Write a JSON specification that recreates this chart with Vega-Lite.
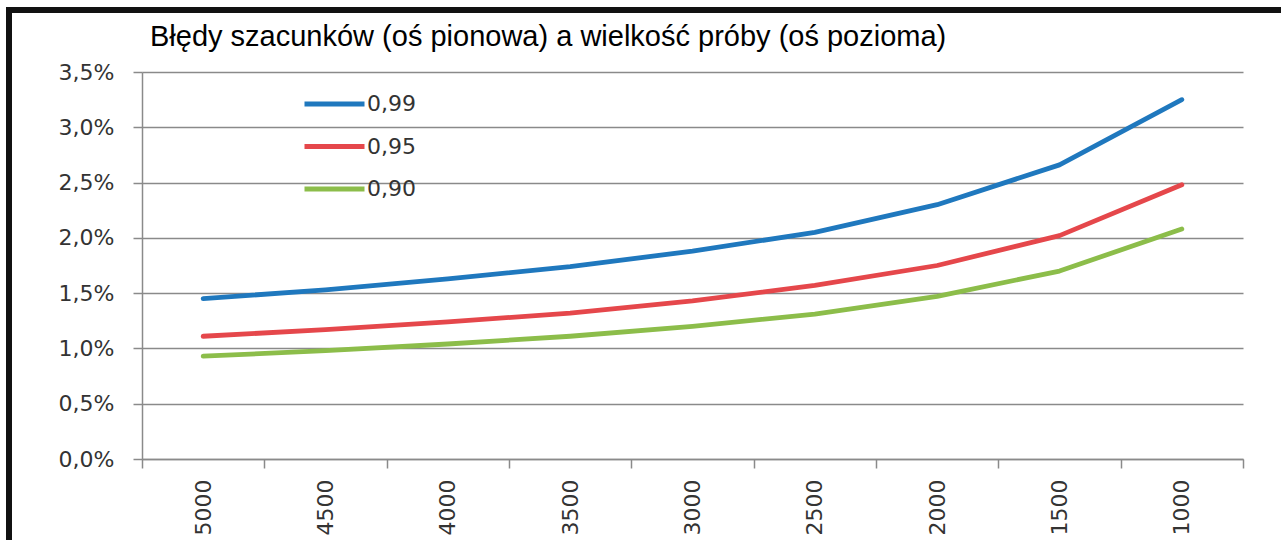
{
  "$schema": "https://vega.github.io/schema/vega-lite/v6.json",
  "autosize": {"type": "none"},
  "padding": {"left": 9, "top": 10, "right": 0, "bottom": 0},
  "width": 1290,
  "height": 545,
  "background": "white",
  "config": {
    "locale": {"number": {"decimal": ",", "thousands": " ", "grouping": [3], "currency": ["", " zł"]}},
    "view": {"stroke": "#111111", "strokeWidth": 6}
  },
  "title": {
    "text": "Błędy szacunków (oś pionowa) a wielkość próby (oś pozioma)",
    "anchor": "start",
    "frame": "group",
    "orient": "top",
    "offset": 0,
    "baseline": "alphabetic",
    "dx": 141,
    "dy": 65,
    "font": "Liberation Sans",
    "fontSize": 29,
    "fontWeight": "normal",
    "color": "#000000"
  },
  "data": {
    "values": [
      {"n": "5000", "conf": "0,99", "err": 0.0145},
      {"n": "4500", "conf": "0,99", "err": 0.0153},
      {"n": "4000", "conf": "0,99", "err": 0.0163},
      {"n": "3500", "conf": "0,99", "err": 0.0174},
      {"n": "3000", "conf": "0,99", "err": 0.0188},
      {"n": "2500", "conf": "0,99", "err": 0.0205},
      {"n": "2000", "conf": "0,99", "err": 0.0230},
      {"n": "1500", "conf": "0,99", "err": 0.0266},
      {"n": "1000", "conf": "0,99", "err": 0.0325},
      {"n": "5000", "conf": "0,95", "err": 0.0111},
      {"n": "4500", "conf": "0,95", "err": 0.0117},
      {"n": "4000", "conf": "0,95", "err": 0.0124},
      {"n": "3500", "conf": "0,95", "err": 0.0132},
      {"n": "3000", "conf": "0,95", "err": 0.0143},
      {"n": "2500", "conf": "0,95", "err": 0.0157},
      {"n": "2000", "conf": "0,95", "err": 0.0175},
      {"n": "1500", "conf": "0,95", "err": 0.0202},
      {"n": "1000", "conf": "0,95", "err": 0.0248},
      {"n": "5000", "conf": "0,90", "err": 0.0093},
      {"n": "4500", "conf": "0,90", "err": 0.0098},
      {"n": "4000", "conf": "0,90", "err": 0.0104},
      {"n": "3500", "conf": "0,90", "err": 0.0111},
      {"n": "3000", "conf": "0,90", "err": 0.0120},
      {"n": "2500", "conf": "0,90", "err": 0.0131},
      {"n": "2000", "conf": "0,90", "err": 0.0147},
      {"n": "1500", "conf": "0,90", "err": 0.0170},
      {"n": "1000", "conf": "0,90", "err": 0.0208}
    ]
  },
  "mark": {"type": "line", "strokeWidth": 4.8, "strokeCap": "round", "strokeJoin": "round"},
  "encoding": {
    "x": {
      "field": "n",
      "type": "ordinal",
      "sort": ["5000", "4500", "4000", "3500", "3000", "2500", "2000", "1500", "1000"],
      "scale": {"type": "band", "range": [133, 1234], "paddingInner": 0, "paddingOuter": 0},
      "axis": {
        "title": null,
        "orient": "bottom",
        "offset": -96,
        "tickBand": "extent",
        "ticks": true,
        "tickSize": 9,
        "tickWidth": 1.5,
        "tickColor": "#8a8a8a",
        "domainColor": "#8a8a8a",
        "domainWidth": 1.5,
        "grid": false,
        "labelAngle": -90,
        "labelPadding": 11,
        "labelFont": "DejaVu Sans",
        "labelFontSize": 22,
        "labelColor": "#333333"
      }
    },
    "y": {
      "field": "err",
      "type": "quantitative",
      "scale": {"domain": [0, 0.035], "range": [449, 62], "nice": false, "zero": true},
      "axis": {
        "title": null,
        "format": ".1%",
        "values": [0, 0.005, 0.01, 0.015, 0.02, 0.025, 0.03, 0.035],
        "offset": -133,
        "tickSize": 9,
        "tickWidth": 1.5,
        "tickColor": "#8a8a8a",
        "domainColor": "#8a8a8a",
        "domainWidth": 1.5,
        "grid": true,
        "gridColor": "#8a8a8a",
        "gridWidth": 1.5,
        "labelPadding": 19,
        "labelFont": "DejaVu Sans",
        "labelFontSize": 22,
        "labelColor": "#333333"
      }
    },
    "color": {
      "field": "conf",
      "type": "nominal",
      "sort": ["0,99", "0,95", "0,90"],
      "scale": {"domain": ["0,99", "0,95", "0,90"], "range": ["#1f78be", "#e5474b", "#8cbd4a"]},
      "legend": {
        "orient": "none",
        "legendX": 293,
        "legendY": 79,
        "title": null,
        "symbolType": "stroke",
        "symbolSize": 3600,
        "symbolStrokeWidth": 4.8,
        "labelFont": "DejaVu Sans",
        "labelFontSize": 22,
        "labelColor": "#333333",
        "labelOffset": 0,
        "clipHeight": 30,
        "rowPadding": 12.5
      }
    }
  }
}
